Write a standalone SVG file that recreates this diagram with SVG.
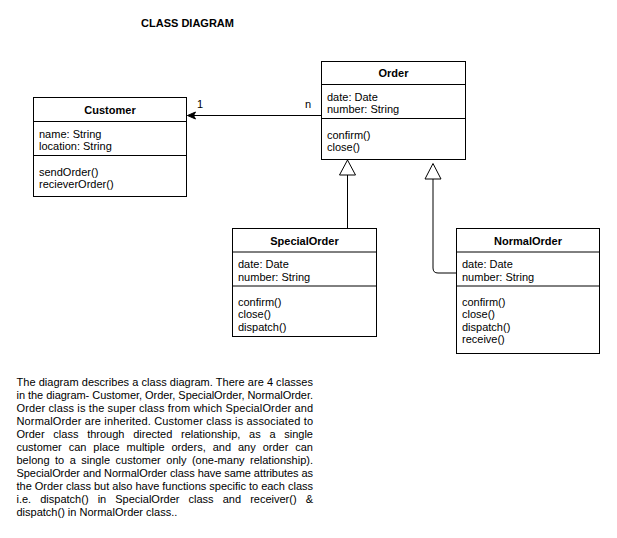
<svg xmlns="http://www.w3.org/2000/svg" width="617" height="538" viewBox="0 0 617 538">
<style>
text{font-family:"Liberation Sans",Arial,Helvetica,sans-serif;font-size:11px;fill:#000}
.b{font-weight:bold}
.m{text-anchor:middle}
.box{fill:#fff;stroke:#000;stroke-width:1}
.div{stroke:#000;stroke-width:1}
.ln{fill:none;stroke:#000;stroke-width:1}
</style>
<defs>
<marker id="open" viewBox="0 0 10 10" refX="9" refY="5" markerWidth="10" markerHeight="10" markerUnits="userSpaceOnUse" orient="auto">
<path d="M9,5 L1,1.5 L3,5 L1,8.5 Z" fill="#000" stroke="#000" stroke-width="1" stroke-linejoin="miter"/>
</marker>
</defs>
<rect width="617" height="538" fill="#fff"/>
<text class="b m" x="187.5" y="27">CLASS DIAGRAM</text>

<g id="customer">
<rect class="box" x="33.5" y="97.5" width="153" height="99"/>
<line class="div" x1="33.5" y1="121.5" x2="186.5" y2="121.5"/>
<line class="div" x1="33.5" y1="155.5" x2="186.5" y2="155.5"/>
<text class="b m" x="110" y="114">Customer</text>
<text x="39" y="137.5">name: String</text>
<text x="39" y="149.5">location: String</text>
<text x="39" y="175.5">sendOrder()</text>
<text x="39" y="187.5">recieverOrder()</text>
</g>

<g id="order">
<rect class="box" x="321.5" y="61.5" width="144" height="98"/>
<line class="div" x1="321.5" y1="84.5" x2="465.5" y2="84.5"/>
<line class="div" x1="321.5" y1="118.5" x2="465.5" y2="118.5"/>
<text class="b m" x="393.5" y="77">Order</text>
<text x="327" y="100.5">date: Date</text>
<text x="327" y="112.5">number: String</text>
<text x="327" y="138.5">confirm()</text>
<text x="327" y="150.5">close()</text>
</g>

<g id="specialorder">
<rect class="box" x="232.5" y="228.5" width="144" height="108"/>
<line class="div" x1="232.5" y1="252" x2="376.5" y2="252"/>
<line class="div" x1="232.5" y1="286" x2="376.5" y2="286"/>
<text class="b m" x="304.5" y="244.5">SpecialOrder</text>
<text x="238" y="268">date: Date</text>
<text x="238" y="280.5">number: String</text>
<text x="238" y="305.5">confirm()</text>
<text x="238" y="318">close()</text>
<text x="238" y="330.5">dispatch()</text>
</g>

<g id="normalorder">
<rect class="box" x="456.5" y="228.5" width="143" height="125"/>
<line class="div" x1="456.5" y1="252" x2="599.5" y2="252"/>
<line class="div" x1="456.5" y1="286" x2="599.5" y2="286"/>
<text class="b m" x="528" y="244.5">NormalOrder</text>
<text x="462" y="268">date: Date</text>
<text x="462" y="280.5">number: String</text>
<text x="462" y="305.5">confirm()</text>
<text x="462" y="318">close()</text>
<text x="462" y="330.5">dispatch()</text>
<text x="462" y="343">receive()</text>
</g>

<g id="connectors">
<line class="ln" x1="321" y1="115.5" x2="187.5" y2="115.5" marker-end="url(#open)"/>
<text class="m" x="200" y="108">1</text>
<text class="m" x="308" y="108">n</text>
<path class="ln" d="M347.5,228 L347.5,175"/>
<path d="M347.5,160 L355.5,175 L339.5,175 Z" fill="#fff" stroke="#000"/>
<path class="ln" d="M456,273 L438,273 Q433,273 433,268 L433,179"/>
<path d="M433,163.5 L441,179 L425,179 Z" fill="#fff" stroke="#000"/>
</g>

<g id="description">
<text x="16.5" y="386" textLength="296.5" lengthAdjust="spacing">The diagram describes a class diagram. There are 4 classes</text>
<text x="16.5" y="399" textLength="296.5" lengthAdjust="spacing">in the diagram- Customer, Order, SpecialOrder, NormalOrder.</text>
<text x="16.5" y="412" textLength="296.5" lengthAdjust="spacing">Order class is the super class from which SpecialOrder and</text>
<text x="16.5" y="425" textLength="296.5" lengthAdjust="spacing">NormalOrder are inherited. Customer class is associated to</text>
<text y="438"><tspan x="16.5">Order</tspan><tspan x="53.35">class</tspan><tspan x="87.14">through</tspan><tspan x="133.17">directed</tspan><tspan x="181.03">relationship,</tspan><tspan x="249.06">as</tspan><tspan x="269.41">a</tspan><tspan x="284.26">single</tspan></text>
<text y="451"><tspan x="16.5">customer</tspan><tspan x="68.68">can</tspan><tspan x="93.37">place</tspan><tspan x="126.61">multiple</tspan><tspan x="171.46">orders,</tspan><tspan x="212.65">and</tspan><tspan x="237.95">any</tspan><tspan x="262.64">order</tspan><tspan x="295.26">can</tspan></text>
<text y="464"><tspan x="16.5">belong</tspan><tspan x="55.02">to</tspan><tspan x="69.69">a</tspan><tspan x="81.32">single</tspan><tspan x="115.55">customer</tspan><tspan x="166.28">only</tspan><tspan x="191.95">(one-many</tspan><tspan x="250.02">relationship).</tspan></text>
<text x="16.5" y="477" textLength="296.5" lengthAdjust="spacing">SpecialOrder and NormalOrder class have same attributes as</text>
<text x="16.5" y="490" textLength="296.5" lengthAdjust="spacing">the Order class but also have functions specific to each class</text>
<text y="503"><tspan x="16.5">i.e.</tspan><tspan x="40.26">dispatch()</tspan><tspan x="97.64">in</tspan><tspan x="115.29">SpecialOrder</tspan><tspan x="188.57">class</tspan><tspan x="222.72">and</tspan><tspan x="250.16">receiver()</tspan><tspan x="305.69">&amp;</tspan></text>
<text x="16.5" y="516">dispatch() in NormalOrder class..</text>
</g>
</svg>
